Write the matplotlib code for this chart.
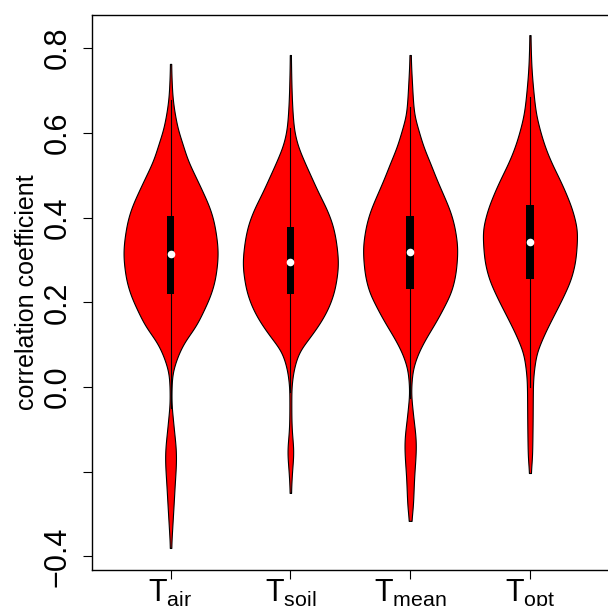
import numpy as np
import matplotlib
matplotlib.use("Agg")
import matplotlib.pyplot as plt

plt.rcParams['font.family'] = ['Liberation Sans', 'DejaVu Sans']
plt.rcParams['mathtext.fontset'] = 'custom'
plt.rcParams['mathtext.rm'] = 'Liberation Sans'
plt.rcParams['mathtext.it'] = 'Liberation Sans'

labels = [r'$\mathregular{T_{air}}$', r'$\mathregular{T_{soil}}$',
          r'$\mathregular{T_{mean}}$', r'$\mathregular{T_{opt}}$']

# violin outlines: y level and half width (x units)
air_y = [0.763, 0.694, 0.615, 0.576, 0.536, 0.497, 0.458, 0.418, 0.379, 0.316, 0.261, 0.222,
         0.182, 0.143, 0.104, 0.064, 0.028, -0.002, -0.030, -0.083, -0.165, -0.239, -0.318, -0.380]
air_w = [.004, .014, .056, .098, .144, .208, .273, .333, .369, .394, .375, .339,
         .278, .208, .111, .048, .014, .008, .007, .022, .046, .033, .017, .004]
soil_y = [0.784, 0.694, 0.615, 0.576, 0.536, 0.497, 0.458, 0.418, 0.379, 0.340, 0.293, 0.238,
          0.198, 0.159, 0.119, 0.080, 0.021, -0.012, -0.059, -0.097, -0.153, -0.200, -0.250]
soil_w = [.004, .011, .028, .056, .111, .173, .236, .306, .356, .383, .398, .375,
          .333, .264, .167, .069, .017, .008, .008, .011, .025, .014, .004]
mean_y = [0.784, 0.725, 0.647, 0.607, 0.568, 0.529, 0.489, 0.450, 0.411, 0.371, 0.324, 0.277,
          0.230, 0.190, 0.151, 0.112, 0.072, 0.035, -0.012, -0.059, -0.137, -0.215, -0.295, -0.316]
mean_w = [.004, .014, .033, .069, .111, .167, .223, .283, .339, .375, .394, .383,
          .348, .283, .208, .125, .056, .019, .008, .022, .048, .033, .019, .004]
opt_y = [0.831, 0.765, 0.686, 0.647, 0.607, 0.568, 0.529, 0.489, 0.450, 0.411, 0.363,
         0.308, 0.261, 0.214, 0.167, 0.119, 0.072, 0.005, -0.090, -0.168, -0.203]
opt_w = [.004, .011, .033, .050, .083, .125, .181, .250, .311, .361, .394,
         .383, .348, .278, .194, .111, .050, .025, .022, .017, .004]

# box stats: lower whisker, q1, median, q3, upper whisker
whisk_lo = [-0.050, -0.012, -0.026, 0.000]
q1 = [0.220, 0.220, 0.231, 0.255]
med = [0.314, 0.295, 0.318, 0.342]
q3 = [0.404, 0.378, 0.405, 0.430]
whisk_hi = [0.678, 0.611, 0.662, 0.685]

profiles = [(air_y, air_w), (soil_y, soil_w), (mean_y, mean_w), (opt_y, opt_w)]


def pchip(x, y, xn):
    # monotone cubic through the read points, just to smooth the outline
    x = np.asarray(x, float); y = np.asarray(y, float)
    h = np.diff(x); d = np.diff(y) / h
    m = np.zeros_like(y)
    m[0], m[-1] = d[0], d[-1]
    for k in range(1, len(x) - 1):
        if d[k-1] * d[k] > 0:
            w1 = 2*h[k] + h[k-1]; w2 = h[k] + 2*h[k-1]
            m[k] = (w1 + w2) / (w1/d[k-1] + w2/d[k])
    i = np.clip(np.searchsorted(x, xn) - 1, 0, len(x) - 2)
    t = (xn - x[i]) / h[i]
    h00 = 2*t**3 - 3*t**2 + 1; h10 = t**3 - 2*t**2 + t
    h01 = -2*t**3 + 3*t**2; h11 = t**3 - t**2
    return h00*y[i] + h10*h[i]*m[i] + h01*y[i+1] + h11*h[i]*m[i+1]


def soften(yn, wn, sigma=0.014):
    dy = yn[1] - yn[0]
    k = np.arange(-int(4*sigma/dy), int(4*sigma/dy) + 1) * dy
    g = np.exp(-0.5 * (k / sigma)**2)
    num = np.convolve(wn, g, mode='same')
    den = np.convolve(np.ones_like(wn), g, mode='same')
    return num / den


fig = plt.figure(figsize=(6.08, 6.06), dpi=100)
ax = fig.add_axes([91.5/608, 36/606, 517.5/608, 555.5/606])

for i, (py, pw) in enumerate(profiles):
    pos = i + 1
    yy = np.asarray(py)[::-1]
    ww = np.asarray(pw)[::-1]
    yn = np.linspace(yy[0], yy[-1], 1200)
    wn = np.clip(pchip(yy, ww, yn), 0, None)
    wn = np.maximum(soften(yn, wn), 0.003)
    ax.fill_betweenx(yn, pos - wn, pos + wn, facecolor='#ff0000',
                     edgecolor='black', linewidth=0.8, zorder=2)
    ax.plot([pos, pos], [whisk_lo[i], whisk_hi[i]], color='black', lw=0.8, zorder=3)
    ax.add_patch(plt.Rectangle((pos - 0.032, q1[i]), 0.064, q3[i] - q1[i],
                               facecolor='black', edgecolor='none', zorder=4))
    ax.plot(pos, med[i], 'o', color='white', markersize=5.5, markeredgewidth=0, zorder=5)

ax.set_xlim(0.34, 4.66)
ax.set_ylim(-0.432, 0.8796)
ax.set_xticks([1, 2, 3, 4])
ax.set_xticklabels(labels, fontsize=22)
ax.set_yticks([0.8, 0.6, 0.4, 0.2, 0.0, -0.2, -0.4])
ax.set_yticklabels(['0.8', '0.6', '0.4', '0.2', '0.0', '', '\u22120.4'],
                   fontsize=22, rotation=90, va='center')
ax.tick_params(axis='x', length=6.5, width=0.8, pad=-1)
ax.tick_params(axis='y', length=6.5, width=0.8, pad=7)
for s in ax.spines.values():
    s.set_linewidth(1.0)
ax.set_ylabel('correlation coefficient', fontsize=18, labelpad=3)

fig.savefig('out.png', dpi=100)
